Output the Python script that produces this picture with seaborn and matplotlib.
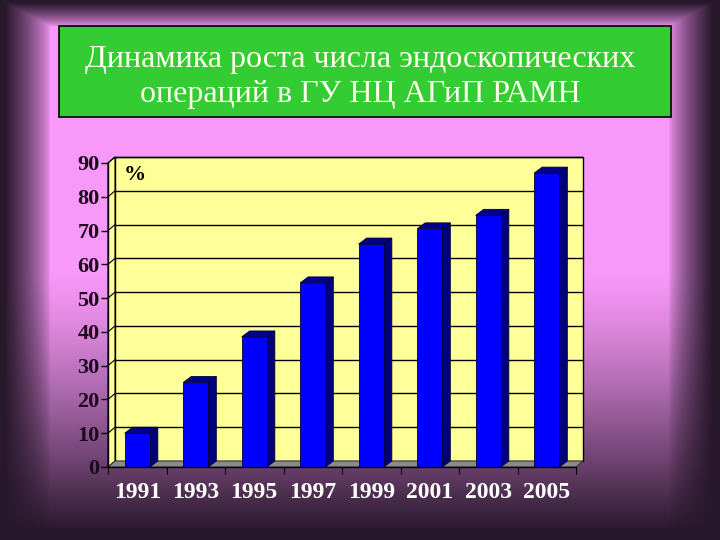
import numpy as np
import pandas as pd
import matplotlib
matplotlib.use("Agg")
import matplotlib.pyplot as plt
from matplotlib.patches import Polygon, Rectangle
import seaborn as sns

# ---- data ----
years = ["1991", "1993", "1995", "1997", "1999", "2001", "2003", "2005"]
values = [10, 25, 38.5, 54.5, 66, 70.5, 74.5, 87]
y_ticks = [0, 10, 20, 30, 40, 50, 60, 70, 80, 90]
title_lines = ["Динамика роста числа эндоскопических", "операций в ГУ НЦ АГиП РАМН"]
unit_label = "%"

df = pd.DataFrame({"year": years, "value": values})

sns.set_theme(style="white")
plt.rcParams["font.family"] = ["Liberation Serif", "DejaVu Serif"]

W, H = 720, 540
fig = plt.figure(figsize=(7.2, 5.4), dpi=100)

# ---- background (pink slide with dark vignette) ----
pink = np.array([248, 152, 248]) / 255.0
dark = np.array([40, 24, 44]) / 255.0
yy, xx = np.mgrid[0:H, 0:W].astype(float)
t = np.clip((yy - 270) / 260.0, 0, 1) ** 1.3
base = pink[None, None, :] * (1 - t[..., None]) + dark[None, None, :] * t[..., None]
e_left = np.clip((50 - xx) / 46.0, 0, 1)
e_right = np.clip((xx - 668) / 44.0, 0, 1)
e_top = np.clip((26 - yy) / 24.0, 0, 1)
e = np.maximum(np.maximum(e_left, e_right), e_top) ** 0.7
img = base * (1 - e[..., None]) + dark[None, None, :] * e[..., None]
bg = fig.add_axes([0, 0, 1, 1])
bg.imshow(img, aspect="auto", extent=[0, 1, 0, 1], zorder=0)
bg.set_xlim(0, 1)
bg.set_ylim(0, 1)
bg.axis("off")

# ---- title box ----
fig.patches.append(Rectangle((59 / W, 1 - 117 / H), 612 / W, 91 / H,
                             transform=fig.transFigure, facecolor="#33CC33",
                             edgecolor="black", linewidth=1.2, zorder=1))
fig.text(0.5, 1 - 67 / H, title_lines[0], ha="center", va="baseline",
         color="#FFFFEE", fontsize=23, family=["Liberation Serif", "DejaVu Serif"], zorder=2)
fig.text(0.5, 1 - 102 / H, title_lines[1], ha="center", va="baseline",
         color="#FFFFEE", fontsize=23, family=["Liberation Serif", "DejaVu Serif"], zorder=2)

# ---- chart ----
ax = fig.add_axes([108 / W, 1 - 467 / H, 468 / W, (467 - 163) / H])
ax.set_facecolor("none")
ax.set_xlim(-0.5, len(years) - 0.5)
ax.set_ylim(0, max(y_ticks))

sns.barplot(data=df, x="year", y="value", color="#0000FF", saturation=1,
            width=0.43, edgecolor="#000033", linewidth=0.6, ax=ax, zorder=5)
ax.set_xlim(-0.5, len(years) - 0.5)
ax.set_ylim(0, max(y_ticks))

# depth offset in data units derived from axes pixel size
fig.canvas.draw()
bb = ax.get_window_extent()
x0l, x1l = ax.get_xlim()
y0l, y1l = ax.get_ylim()
px_x = (x1l - x0l) / bb.width
px_y = (y1l - y0l) / bb.height
dx, dy = 7 * px_x, 6 * px_y
bdx, bdy = 8 * px_x, 6 * px_y

xl, xr = x0l, x1l
ytop = y1l
wall = "#FFFF99"

# back wall
ax.add_patch(Polygon([(xl + dx, dy), (xr + dx, dy), (xr + dx, ytop + dy), (xl + dx, ytop + dy)],
                     closed=True, facecolor=wall, edgecolor="black", linewidth=1.0,
                     zorder=1, clip_on=False))
# left side wall
ax.add_patch(Polygon([(xl, 0), (xl, ytop), (xl + dx, ytop + dy), (xl + dx, dy)],
                     closed=True, facecolor=wall, edgecolor="black", linewidth=0.8,
                     zorder=1, clip_on=False))
# gridlines
for v in y_ticks[1:]:
    ax.plot([xl + dx, xr + dx], [v + dy, v + dy], color="black", linewidth=1.0,
            zorder=1.5, clip_on=False)
    ax.plot([xl, xl + dx], [v, v + dy], color="black", linewidth=0.8,
            zorder=1.5, clip_on=False)
# floor
ax.add_patch(Polygon([(xl, 0), (xr, 0), (xr + dx, dy), (xl + dx, dy)],
                     closed=True, facecolor="#8A8A8A", edgecolor="#333333", linewidth=0.7,
                     zorder=2, clip_on=False))

# 3D faces of bars
for p in list(ax.patches):
    if not isinstance(p, Rectangle) or p.get_zorder() != 5:
        continue
    bx, bw, bh = p.get_x(), p.get_width(), p.get_height()
    side = Polygon([(bx + bw, 0), (bx + bw + bdx, bdy), (bx + bw + bdx, bh + bdy), (bx + bw, bh)],
                   closed=True, facecolor="#00007A", edgecolor="#000033", linewidth=0.6,
                   zorder=4, clip_on=False)
    top = Polygon([(bx, bh), (bx + bw, bh), (bx + bw + bdx, bh + bdy), (bx + bdx, bh + bdy)],
                  closed=True, facecolor="#000090", edgecolor="#000033", linewidth=0.6,
                  zorder=4, clip_on=False)
    ax.add_patch(side)
    ax.add_patch(top)

# spines
for s in ["top", "right"]:
    ax.spines[s].set_visible(False)
for s in ["left", "bottom"]:
    ax.spines[s].set_color("black")
    ax.spines[s].set_linewidth(1.0)
    ax.spines[s].set_zorder(6)

ax.set_yticks(y_ticks)
ax.set_yticklabels([str(v) for v in y_ticks], fontsize=16, fontweight="bold", color="#1E0A1E")
ax.tick_params(axis="y", which="major", direction="out", length=5, width=1, color="black",
               pad=1, left=True)
ax.set_xticks(range(len(years)))
ax.set_xticklabels(years, fontsize=17, fontweight="bold", color="white")
ax.tick_params(axis="x", which="major", length=0, pad=11)
ax.set_xticks(np.arange(-0.5, len(years), 1.0), minor=True)
ax.tick_params(axis="x", which="minor", direction="out", length=5, width=0.8, color="black",
               bottom=True)
ax.set_xlabel("")
ax.set_ylabel("")

ax.text(-0.04, 86.4, unit_label, ha="center", va="center", fontsize=16,
        fontweight="bold", color="black", zorder=3)

fig.savefig("out.png", dpi=100)
